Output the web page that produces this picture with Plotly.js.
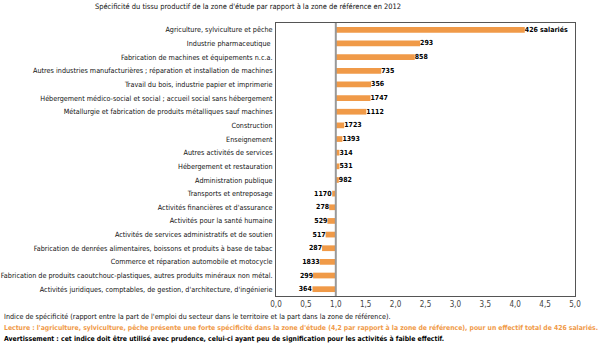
<!DOCTYPE html>
<html>
<head>
<meta charset="utf-8">
<script src="https://cdn.plot.ly/plotly-3.0.1.min.js"></script>
<style>html,body{margin:0;padding:0;background:#fff;}#chart{width:600px;height:347px;}</style>
</head>
<body>
<div id="chart"></div>
<script>
var categories = [
  "Agriculture, sylviculture et pêche",
  "Industrie pharmaceutique ",
  "Fabrication de machines et équipements n.c.a.",
  "Autres industries manufacturières ; réparation et installation de machines",
  "Travail du bois, industrie papier et imprimerie",
  "Hébergement médico-social et social ; accueil social sans hébergement",
  "Métallurgie et fabrication de produits métalliques sauf machines",
  "Construction",
  "Enseignement",
  "Autres activités de services",
  "Hébergement et restauration",
  "Administration publique",
  "Transports et entreposage",
  "Activités financières et d'assurance",
  "Activités pour la santé humaine",
  "Activités de services administratifs et de soutien",
  "Fabrication de denrées alimentaires, boissons et produits à base de tabac",
  "Commerce et réparation automobile et motocycle",
  "Fabrication de produits caoutchouc-plastiques, autres produits minéraux non métal.",
  "Activités juridiques, comptables, de gestion, d'architecture, d'ingénierie"
];
var indices = [4.16, 2.41, 2.32, 1.76, 1.59, 1.58, 1.51, 1.14, 1.11, 1.06, 1.06, 1.05,
               0.94, 0.89, 0.86, 0.83, 0.77, 0.73, 0.62, 0.61];
var effectifs = [426, 293, 858, 735, 356, 1747, 1112, 1723, 1393, 314, 531, 982,
                 1170, 278, 529, 517, 287, 1833, 299, 364];
var xTicks = [0, 0.5, 1, 1.5, 2, 2.5, 3, 3.5, 4, 4.5, 5];
var reference = 1;

var TITLE = "Spécificité du tissu productif de la zone d'étude par rapport à la zone de référence en 2012";
var NOTE1 = "Indice de spécificité (rapport entre la part de l'emploi du secteur dans le territoire et la part dans la zone de référence).";
var NOTE2 = "Lecture : l'agriculture, sylviculture, pêche présente une forte spécificité dans la zone d'étude (4,2 par rapport à la zone de référence), pour un effectif total de 426 salariés.";
var NOTE3 = "Avertissement : cet indice doit être utilisé avec prudence, celui-ci ayant peu de signification pour les activités à faible effectif.";

var W = 600, H = 347, ML = 276, MR = 25, MT = 23, MB = 51;
function px(x){ return (x - ML) / (W - ML - MR); }
function py(y){ return (H - MB - y) / (H - MT - MB); }

// choose an installed narrow font if there is one
var cv = document.createElement("canvas").getContext("2d");
function widthOf(txt, fam, size, weight){
  cv.font = (weight || "normal") + " " + size + "px " + fam;
  return cv.measureText(txt).width;
}
function available(name){
  var s = "abcdefghijklmnopqrstuvwxyz ABCDEFGHIJ 0123456789";
  return widthOf(s, "'" + name + "', monospace", 20) !== widthOf(s, "monospace", 20) ||
         widthOf(s, "'" + name + "', serif", 20) !== widthOf(s, "serif", 20);
}
var candidates = ["Liberation Sans Narrow", "Arial Narrow", "DejaVu Sans Condensed", "Liberation Sans", "Arial"];
var FAM = "sans-serif";
for (var i = 0; i < candidates.length; i++) {
  if (available(candidates[i])) { FAM = "'" + candidates[i] + "', sans-serif"; break; }
}
function fit(txt, target, weight, maxSize){
  var w = widthOf(txt, FAM, 10, weight);
  var s = 10 * target / w;
  return Math.min(s, maxSize || 100);
}
var longest = categories.reduce(function(a, b){ return widthOf(b, FAM, 10) > widthOf(a, FAM, 10) ? b : a; });

var sCat = fit(longest, 272, "normal", 8.5);
var sTitle = fit(TITLE, 307, "normal", 11);
var sN1 = fit(NOTE1, 387, "normal", 9);
var sN2 = fit(NOTE2, 595, "bold", 9);
var sN3 = fit(NOTE3, 441, "bold", 9);
var sBar = fit("426 salariés", 43, "bold", 9.5);
var sTick = fit("1,0", 11.5, "normal", 9);

var labels = effectifs.map(function(e, i){ return i === 0 ? e + " salariés" : String(e); });

var trace = {
  type: "bar",
  orientation: "h",
  y: categories,
  x: indices.map(function(v){ return v - reference; }),
  base: reference,
  width: 0.42,
  marker: {color: "#F09A48", line: {width: 0}},
  text: labels,
  textposition: "outside",
  constraintext: "none",
  textfont: {family: FAM, size: sBar, color: "#000", weight: "bold"},
  cliponaxis: false,
  hoverinfo: "none"
};

var layout = {
  width: W, height: H,
  margin: {l: ML, r: MR, t: MT, b: MB, pad: 0},
  paper_bgcolor: "#fff", plot_bgcolor: "#fff",
  separators: ", ",
  showlegend: false,
  font: {family: FAM, size: 8, color: "#111"},
  xaxis: {
    range: [0, 5], tickvals: xTicks, tickformat: ".1f",
    showgrid: false, zeroline: false,
    showline: true, mirror: true, linecolor: "#555", linewidth: 1,
    ticks: "", tickfont: {family: FAM, size: sTick, color: "#444"}
  },
  yaxis: {
    type: "category", autorange: "reversed",
    showgrid: false, zeroline: false,
    showline: true, mirror: true, linecolor: "#555", linewidth: 1,
    ticks: "", ticklabelstandoff: 1,
    tickfont: {family: FAM, size: sCat, color: "#111"}
  },
  shapes: [{
    type: "line", xref: "x", yref: "paper", x0: reference, x1: reference, y0: 0, y1: 1,
    line: {color: "#999", width: 2}
  }],
  annotations: [
    {text: TITLE,
     xref: "paper", yref: "paper", x: px(248), y: py(7), xanchor: "center", yanchor: "middle",
     showarrow: false, font: {family: FAM, size: sTitle, color: "#111"}},
    {text: NOTE1,
     xref: "paper", yref: "paper", x: px(2), y: py(316), xanchor: "left", yanchor: "middle",
     showarrow: false, font: {family: FAM, size: sN1, color: "#111"}},
    {text: "<b>" + NOTE2 + "</b>",
     xref: "paper", yref: "paper", x: px(2), y: py(327.5), xanchor: "left", yanchor: "middle",
     showarrow: false, font: {family: FAM, size: sN2, color: "#F09A48"}},
    {text: "<b>" + NOTE3 + "</b>",
     xref: "paper", yref: "paper", x: px(2), y: py(339), xanchor: "left", yanchor: "middle",
     showarrow: false, font: {family: FAM, size: sN3, color: "#000"}}
  ]
};

Plotly.newPlot("chart", [trace], layout, {staticPlot: true, displayModeBar: false});
</script>
</body>
</html>
